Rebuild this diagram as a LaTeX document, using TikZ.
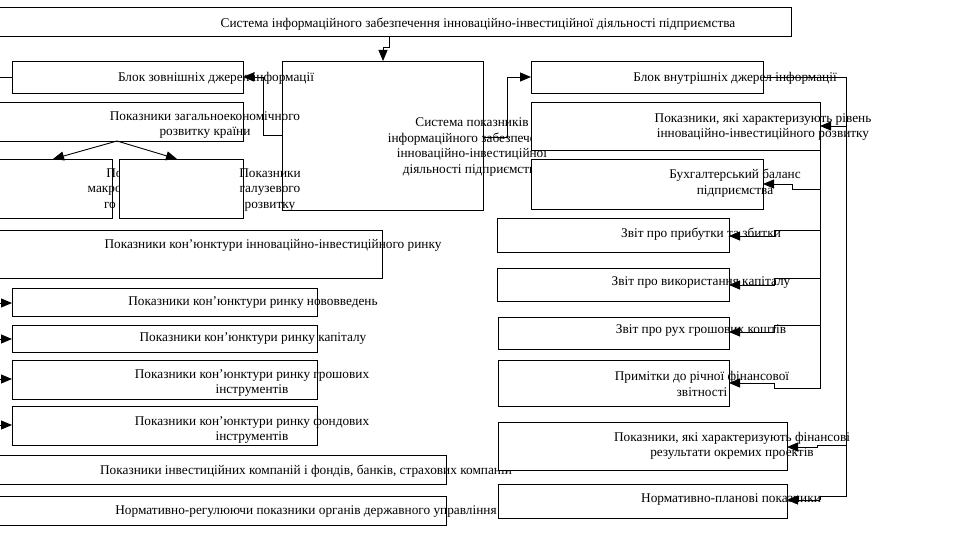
\documentclass[tikz,border=0pt]{standalone}
\usepackage{fontspec}
\setmainfont{Liberation Serif}
\usetikzlibrary{arrows.meta}
\tikzset{
 box/.style={draw, fill=white, line width=0.9pt, inner sep=0pt, outer sep=0pt, anchor=north west},
 txt/.style={inner sep=0pt, align=center, yshift=-2pt, font=\fontsize{13.3}{15.6}\selectfont},
 ln/.style={line width=0.9pt},
 arr/.style={line width=0.9pt, -{Triangle[length=11pt,width=9pt]}}
}
\begin{document}
\begin{tikzpicture}[x=1pt,y=-1pt]
\useasboundingbox (0,0) rectangle (971,540);
\clip (0,0) rectangle (971,540);
\fill[white] (0,0) rectangle (971,540);
% top
\node[box, minimum width=811pt, minimum height=29pt] (top) at (-20,7) {};
\node[txt] (topT) at (478,22) {Система інформаційного забезпечення інноваційно-інвестиційної діяльності підприємства};
% system box
\node[box, minimum width=201pt, minimum height=149pt] (sys) at (282,61) {};
\node[txt] (sysT) at (472,145) {Система показників\\інформаційного забезпечення\\інноваційно-інвестиційної\\діяльності підприємства};
% left column
\node[box, minimum width=231pt, minimum height=32pt] (ext) at (12,61) {};
\node[txt] (extT) at (216,76) {Блок зовнішніх джерел інформації};
\node[box, minimum width=263pt, minimum height=39pt] (gen) at (-20,102) {};
\node[txt] (genT) at (205,123) {Показники загальноекономічного\\розвитку країни};
\node[box, minimum width=132pt, minimum height=59pt] (macro) at (-20,159) {};
\node[txt] (macroT) at (137,188) {Показники\\макроекономічно\\го розвитку};
\node[box, minimum width=124pt, minimum height=59pt] (branch) at (119,159) {};
\node[txt] (branchT) at (270,188) {Показники\\галузевого\\розвитку};
\node[box, minimum width=402pt, minimum height=48pt] (conj) at (-20,230) {};
\node[txt] (conjT) at (273,243) {Показники кон’юнктури інноваційно-інвестиційного ринку};
\node[box, minimum width=305pt, minimum height=28pt] (m1) at (12,288) {};
\node[txt] (m1T) at (253,301) {Показники кон’юнктури ринку нововведень};
\node[box, minimum width=305pt, minimum height=27pt] (m2) at (12,325) {};
\node[txt] (m2T) at (253,337) {Показники кон’юнктури ринку капіталу};
\node[box, minimum width=305pt, minimum height=39pt] (m3) at (12,360) {};
\node[txt] (m3T) at (252,381) {Показники кон’юнктури ринку грошових\\інструментів};
\node[box, minimum width=305pt, minimum height=39pt] (m4) at (12,406) {};
\node[txt] (m4T) at (252,428) {Показники кон’юнктури ринку фондових\\інструментів};
\node[box, minimum width=466pt, minimum height=29pt] (inv) at (-20,455) {};
\node[txt] (invT) at (306,469) {Показники інвестиційних компаній і фондів, банків, страхових компаній};
\node[box, minimum width=466pt, minimum height=29pt] (norm) at (-20,496) {};
\node[txt] (normT) at (306,510) {Нормативно-регулюючи показники органів державного управління};
% right column
\node[box, minimum width=232pt, minimum height=32pt] (int) at (531,61) {};
\node[txt] (intT) at (735,76) {Блок внутрішніх джерел інформації};
\node[box, minimum width=289pt, minimum height=48pt] (lvl) at (531,102) {};
\node[txt] (lvlT) at (763,125) {Показники, які характеризують рівень\\інноваційно-інвестиційного розвитку};
\node[box, minimum width=232pt, minimum height=50pt] (bal) at (531,159) {};
\node[txt] (balT) at (735,181) {Бухгалтерський баланс\\підприємства};
\node[box, minimum width=232pt, minimum height=34pt] (pr) at (497,218) {};
\node[txt] (prT) at (701,232) {Звіт про прибутки та збитки};
\node[box, minimum width=232pt, minimum height=33pt] (cap) at (497,268) {};
\node[txt] (capT) at (701,281) {Звіт про використання капіталу};
\node[box, minimum width=231pt, minimum height=32pt] (cash) at (498,317) {};
\node[txt] (cashT) at (701,329) {Звіт про рух грошових коштів};
\node[box, minimum width=231pt, minimum height=46pt] (notes) at (498,360) {};
\node[txt] (notesT) at (702,382) {Примітки до річної фінансової\\звітності};
\node[box, minimum width=289pt, minimum height=48pt] (fin) at (498,422) {};
\node[txt] (finT) at (732,444) {Показники, які характеризують фінансові\\результати окремих проектів};
\node[box, minimum width=289pt, minimum height=34pt] (plan) at (498,484) {};
\node[txt] (planT) at (731,498) {Нормативно-планові показники};
% connectors
\coordinate (offL) at (-10,77);
\draw[arr] (top.south -| 389,0) |- (383,47) -- (sys.north -| 383,0);
\draw[arr] (sys.west |- 0,135) -- (263,135) |- (ext.east);
\draw[arr] (sys.east |- 0,137) -- (507,137) |- (int.west);
\draw[ln] (offL) -- (ext.west);
\draw[arr] (117,141) -- (macro.north -| 53,0);
\draw[arr] (117,141) -- (branch.north -| 177,0);
\coordinate (l1) at (-10,303);
\coordinate (l2) at (-10,339);
\coordinate (l3) at (-10,379);
\coordinate (l4) at (-10,425);
\draw[arr] (l1) -- (m1.west |- l1);
\draw[arr] (l2) -- (m2.west |- l2);
\draw[arr] (l3) -- (m3.west |- l3);
\draw[arr] (l4) -- (m4.west |- l4);
% internal block bus
\draw[ln] (int.east) -- (846,77) -- (846,496) -- (820,496) -- (820,500);
\draw[arr] (820,500) -- (plan.east |- 0,500);
\draw[arr] (846,126) -- (lvl.east |- 0,126);
\draw[arr] (846,445) -- (817,445) -- (817,447) -- (fin.east |- 0,447);
% level bus
\draw[ln] (lvl.south east) -- (820,388) -- (774,388) -- (774,383);
\draw[arr] (774,383) -- (notes.east |- 0,383);
\draw[arr] (820,189) -- (792,189) -- (792,184) -- (bal.east |- 0,184);
\draw[arr] (820,230) -- (774,230) -- (774,236) -- (pr.east |- 0,236);
\draw[arr] (820,278) -- (774,278) -- (774,285) -- (cap.east |- 0,285);
\draw[arr] (820,325) -- (774,325) -- (774,332) -- (cash.east |- 0,332);
\end{tikzpicture}
\end{document}
